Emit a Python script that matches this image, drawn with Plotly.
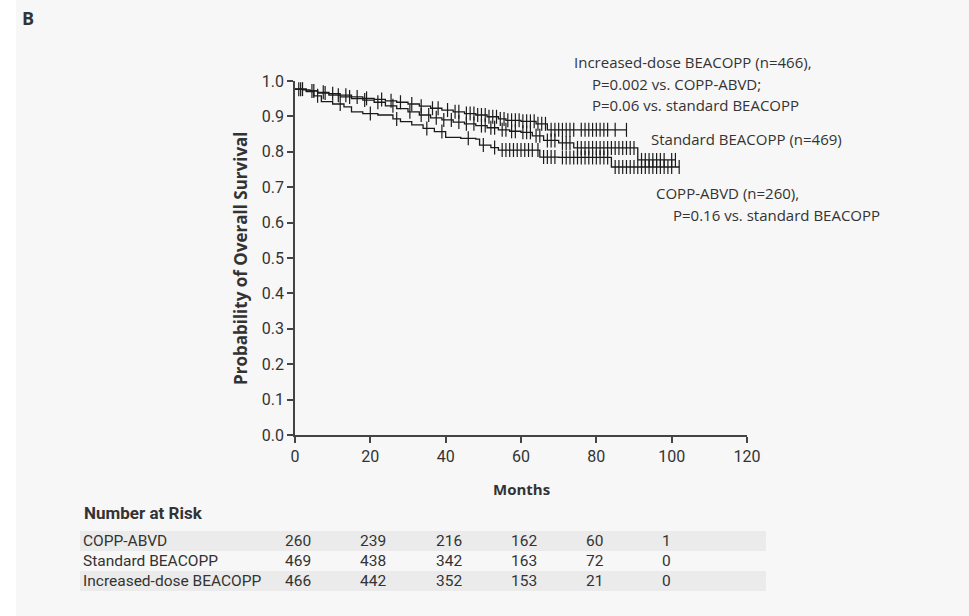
import numpy as np
import plotly.graph_objects as go

# ---------------- data ----------------
months_ticks = [0, 20, 40, 60, 80, 100, 120]
y_ticks = [0.0, 0.1, 0.2, 0.3, 0.4, 0.5, 0.6, 0.7, 0.8, 0.9, 1.0]

# Kaplan-Meier step curves (event times, survival after time)
inc_t = [0, 2, 4, 6, 9, 12, 15, 18, 21, 24, 27, 30, 33, 36, 39, 42, 45, 48, 51, 54, 56, 60, 64, 67, 88]
inc_s = [0.977, 0.975, 0.972, 0.968, 0.964, 0.960, 0.955, 0.951, 0.948, 0.944, 0.940, 0.935, 0.929, 0.923,
         0.918, 0.913, 0.908, 0.904, 0.899, 0.893, 0.889, 0.886, 0.879, 0.862, 0.862]

std_t = [0, 3, 6, 9, 12, 15, 18, 21, 24, 27, 30, 33, 36, 39, 42, 45, 48, 51, 54, 57, 60, 63, 66, 70, 74, 91, 101]
std_s = [0.977, 0.972, 0.966, 0.960, 0.955, 0.950, 0.946, 0.940, 0.930, 0.922, 0.913, 0.904, 0.896, 0.890,
         0.884, 0.879, 0.874, 0.868, 0.862, 0.858, 0.855, 0.845, 0.832, 0.825, 0.811, 0.777, 0.777]

copp_t = [0, 3, 5, 7, 10, 13, 15, 18, 22, 26, 28, 31, 34, 37, 40, 44, 48, 49, 52, 54, 65, 70, 84, 102]
copp_s = [0.977, 0.970, 0.958, 0.942, 0.935, 0.927, 0.913, 0.908, 0.904, 0.893, 0.885, 0.876, 0.866, 0.857,
          0.841, 0.838, 0.836, 0.819, 0.812, 0.805, 0.785, 0.784, 0.757, 0.757]

# censoring times
inc_c = [1.5, 4.5, 7.5, 10, 13.5, 16.5, 19, 23, 25.5, 28, 31, 33.5, 36.5, 38, 40.5, 42.5, 43.5, 45.5, 46.5,
         47.5, 48.5, 49.5, 50.5, 51.5, 52.5, 53.5, 54.5, 55.5, 56.5, 57.5, 58.5, 59.5, 60.5, 61.5, 62.5,
         63.5, 64.5, 65.5, 66.5, 68, 69, 70, 71, 72, 73, 74, 76, 77, 78, 79, 80, 81, 82, 83, 85, 88]
std_c = [2, 5, 8, 11.5, 14.5, 18.5, 22, 26, 30.5, 33.5, 35.5, 37.5, 39.5, 41.5, 43.5, 45.5, 47.5, 49.5, 50.5,
         52, 53, 55, 56, 57.5, 58.5, 60.5, 61.5, 62.5, 64, 65, 67, 68, 69, 71, 72, 73, 75, 76, 77, 78, 79, 80,
         81, 82, 83, 84, 85, 86, 87, 88, 89, 90, 92, 93, 94, 95, 96, 97, 98, 100, 101]
copp_c = [1, 6, 12, 20, 27, 35, 39, 46, 50, 53, 55, 56, 57, 58, 59, 60, 61, 62, 63, 64.5, 66, 67, 68, 69,
          71, 72, 73, 74, 75, 76, 77, 78, 79, 80, 81, 82, 83, 85, 86, 87, 88, 89, 90, 91, 92, 93, 94, 95,
          96, 97, 98, 99, 100, 102]

risk_groups = ["COPP-ABVD", "Standard BEACOPP", "Increased-dose BEACOPP"]
risk_copp = [260, 239, 216, 162, 60, 1]
risk_std = [469, 438, 342, 163, 72, 0]
risk_inc = [466, 442, 352, 153, 21, 0]
risk_months = [0, 20, 40, 60, 80, 100]

# ---------------- layout helpers ----------------
W, H = 969, 616
L, R, T, B = 295, 747, 81, 435
def px(x):
    return (x - L) / (R - L)
def py(y):
    return (B - y) / (B - T)

FONT = "Open Sans, Lato, sans-serif"
NARROW = "Roboto, Liberation Sans, sans-serif"
TXT = "#333333"
INK = "#1a1a1a"

fig = go.Figure()

def add_curve(t, s, c):
    t = np.array(t, float); s = np.array(s, float)
    fig.add_trace(go.Scatter(x=t, y=s, mode="lines", line=dict(color=INK, width=1.3, shape="hv"),
                             showlegend=False, hoverinfo="skip"))
    c = np.array(c, float)
    idx = np.searchsorted(t, c, side="right") - 1
    fig.add_trace(go.Scatter(x=c, y=s[idx], mode="markers",
                             marker=dict(symbol="line-ns-open", size=10, color=INK,
                                         line=dict(color=INK, width=1.2)),
                             showlegend=False, hoverinfo="skip"))

add_curve(copp_t, copp_s, copp_c)
add_curve(std_t, std_s, std_c)
add_curve(inc_t, inc_s, inc_c)

ann = []
def text(x, y, s, size=15, font=FONT, xanchor="left", bold=False, angle=0, xref="paper", xshift=0):
    ann.append(dict(x=x, y=y, xref=xref, yref="paper", text=("<b>%s</b>" % s) if bold else s,
                    showarrow=False, xanchor=xanchor, yanchor="middle", textangle=angle, xshift=xshift,
                    font=dict(family=font, size=size, color=TXT)))

text(px(20), py(18), "B", size=18, bold=True)
text(px(240), py(258), "Probability of Overall Survival", size=17, bold=True, xanchor="center", angle=-90)
text(px(521), py(489), "Months", size=15, bold=True, xanchor="center")

text(px(572), py(62), "Increased-dose BEACOPP (n=466),")
text(px(590), py(84), "P=0.002 vs. COPP-ABVD;")
text(px(590), py(105), "P=0.06 vs. standard BEACOPP")
text(px(649), py(139), "Standard BEACOPP (n=469)")
text(px(654), py(193), "COPP-ABVD (n=260),")
text(px(671), py(215), "P=0.16 vs. standard BEACOPP")

text(px(82), py(513), "Number at Risk", size=17, bold=True, font=NARROW)
row_y = [541, 561, 581]
for g, vals, yy in zip(risk_groups, [risk_copp, risk_std, risk_inc], row_y):
    text(px(81), py(yy), g, size=15.5, font=NARROW)
    for m, v in zip(risk_months, vals):
        text(m, py(yy), str(v), size=15.5, font=NARROW, xref="x", xshift=-12)

shapes = [
    dict(type="rect", xref="paper", yref="paper", x0=px(0), x1=px(16), y0=py(H), y1=py(0),
         fillcolor="white", line=dict(width=0), layer="below"),
    dict(type="rect", xref="paper", yref="paper", x0=px(80), x1=px(766), y0=py(551), y1=py(531),
         fillcolor="#ebebeb", line=dict(width=0), layer="below"),
    dict(type="rect", xref="paper", yref="paper", x0=px(80), x1=px(766), y0=py(591), y1=py(571),
         fillcolor="#ebebeb", line=dict(width=0), layer="below"),
]

axis_common = dict(showgrid=False, zeroline=False, showline=True, linecolor="#444444", linewidth=1.5,
                   ticks="outside", ticklen=6, tickwidth=1.5, tickcolor="#444444",
                   tickfont=dict(family=NARROW, size=16, color=TXT))

fig.update_layout(
    width=W, height=H,
    margin=dict(l=L, r=W - R, t=T, b=H - B, pad=0),
    paper_bgcolor="#f7f7f7", plot_bgcolor="rgba(0,0,0,0)",
    xaxis=dict(range=[0, 120], tickvals=months_ticks, **axis_common),
    yaxis=dict(range=[0, 1], tickvals=y_ticks, ticktext=["%.1f" % v for v in y_ticks], **axis_common),
    annotations=ann, shapes=shapes, showlegend=False,
)

fig.write_html("out.html")
